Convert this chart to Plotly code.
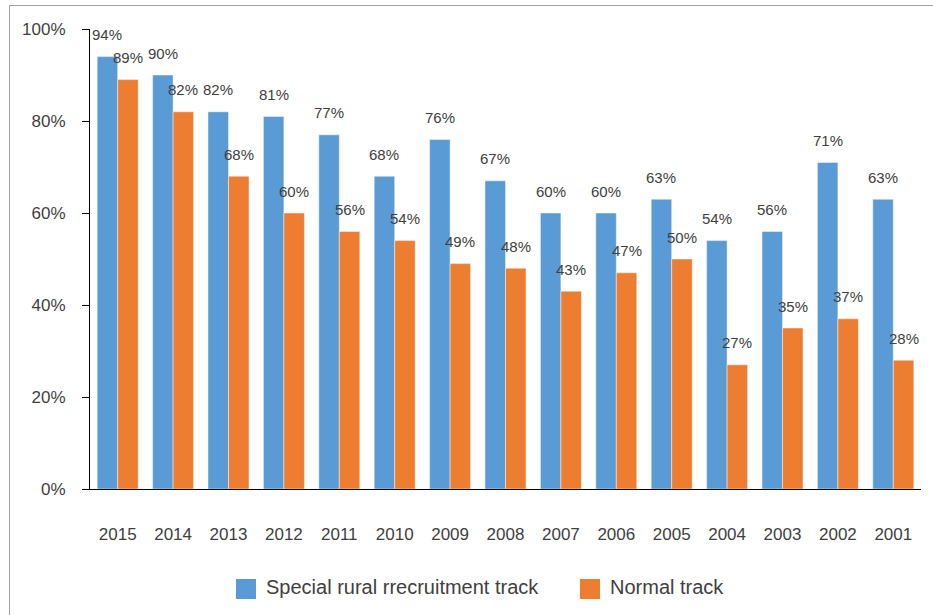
import plotly.graph_objects as go

years = ["2015", "2014", "2013", "2012", "2011", "2010", "2009", "2008",
         "2007", "2006", "2005", "2004", "2003", "2002", "2001"]
special = [94, 90, 82, 81, 77, 68, 76, 67, 60, 60, 63, 54, 56, 71, 63]
normal = [89, 82, 68, 60, 56, 54, 49, 48, 43, 47, 50, 27, 35, 37, 28]
series_names = ["Special rural rrecruitment track", "Normal track"]
colors = ["#5B9BD5", "#ED7D31"]
y_ticks = [0, 20, 40, 60, 80, 100]

W, H = 933, 615
L, R, T, B = 90, 12, 29, 126
PW, PH = W - L - R, H - T - B


def px_x(p):
    return (p - L) / PW


def px_y(p):
    return (H - B - p) / PH


FONT = "Liberation Sans, Arial, sans-serif"
TXT = "#404040"

fig = go.Figure()
for name, vals, col in zip(series_names, [special, normal], colors):
    fig.add_trace(go.Bar(
        x=years, y=vals, name=name,
        marker=dict(color=col, line=dict(color="rgba(255,255,255,0.45)", width=1)),
        showlegend=False,
    ))

annotations = []
for vals, shift in [(special, -10.3), (normal, 10.3)]:
    for i, v in enumerate(vals):
        annotations.append(dict(
            x=i, y=v, xref="x", yref="y", text=f"{v}%", showarrow=False,
            xshift=shift, yshift=22, yanchor="middle", xanchor="center",
            font=dict(family=FONT, size=15, color=TXT),
        ))

# custom legend
legend_items = [(series_names[0], colors[0], 236), (series_names[1], colors[1], 580)]
shapes = []
for name, col, x0 in legend_items:
    shapes.append(dict(type="rect", xref="paper", yref="paper",
                       x0=px_x(x0), x1=px_x(x0 + 20), y0=px_y(599), y1=px_y(579),
                       fillcolor=col, line=dict(width=0)))
    annotations.append(dict(x=px_x(x0 + 28), y=px_y(587), xref="paper", yref="paper",
                            text=name, showarrow=False, xanchor="left", yanchor="middle",
                            font=dict(family=FONT, size=20, color=TXT)))

# outer frame
shapes.append(dict(type="rect", xref="paper", yref="paper",
                   x0=px_x(9.5), x1=px_x(W + 20), y0=px_y(H + 20), y1=px_y(5.5),
                   line=dict(color="#A0A0A0", width=1), fillcolor="rgba(0,0,0,0)",
                   layer="below"))

fig.update_layout(
    width=W, height=H,
    margin=dict(l=L, r=R, t=T, b=B),
    paper_bgcolor="white", plot_bgcolor="white",
    barmode="group", bargap=0.26, bargroupgap=0,
    font=dict(family=FONT, size=17, color=TXT),
    annotations=annotations, shapes=shapes,
    xaxis=dict(type="category", range=[-0.5, len(years) - 0.5], showgrid=False,
               showline=True, linecolor="black", linewidth=1, ticks="",
               ticklabelstandoff=30, tickfont=dict(family=FONT, size=17, color=TXT)),
    yaxis=dict(range=[0, 100], tickvals=y_ticks, ticktext=[f"{v}%" for v in y_ticks],
               showgrid=False, showline=True, linecolor="black", linewidth=1,
               ticks="outside", ticklen=7, tickcolor="black", ticklabelstandoff=13,
               zeroline=False, tickfont=dict(family=FONT, size=17, color=TXT)),
)

fig.write_html("out.html", config={"displayModeBar": False},
               post_script="document.body.style.margin='0';")
